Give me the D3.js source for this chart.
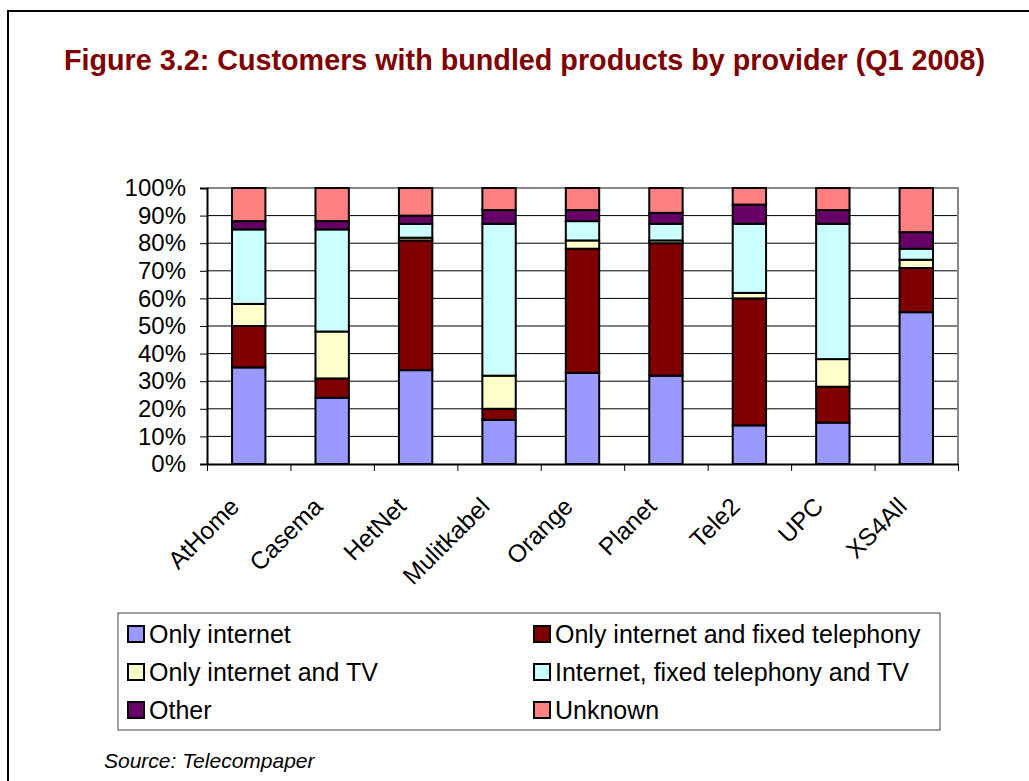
<!DOCTYPE html>
<html>
<head>
<meta charset="utf-8">
<script src="https://cdn.jsdelivr.net/npm/d3@7"></script>
<style>
  body { margin: 0; background: #fff; }
  svg { display: block; font-family: "Liberation Sans", Arial, sans-serif; }
</style>
</head>
<body>
<svg class="chart"></svg>
<script>
var providers = ["AtHome", "Casema", "HetNet", "Mulitkabel", "Orange", "Planet", "Tele2", "UPC", "XS4All"];
var seriesNames = ["Only internet", "Only internet and fixed telephony", "Only internet and TV",
                   "Internet, fixed telephony and TV", "Other", "Unknown"];
var colors = ["#9999FF", "#800000", "#FFFFCC", "#CCFFFF", "#660066", "#FF8080"];

// shares in % per provider
var onlyInternet   = [35, 24, 34, 16, 33, 32, 14, 15, 55];
var internetPhone  = [15,  7, 47,  4, 45, 48, 46, 13, 16];
var internetTV     = [ 8, 17,  1, 12,  3,  1,  2, 10,  3];
var internetPhoneTV= [27, 37,  5, 55,  7,  6, 25, 49,  4];
var other          = [ 3,  3,  3,  5,  4,  4,  7,  5,  6];
var unknown        = [12, 12, 10,  8,  8,  9,  6,  8, 16];
var yTicks = [0, 10, 20, 30, 40, 50, 60, 70, 80, 90, 100];

var W = 1029, H = 781;
var pLeft = 207, pRight = 958, pTop = 188, pBottom = 464;

var svg = d3.select(".chart").attr("width", W).attr("height", H);

// outer frame
svg.append("rect")
   .attr("x", 8).attr("y", 11)
   .attr("width", 1040).attr("height", 800)
   .attr("fill", "none").attr("stroke", "#000").attr("stroke-width", 2);

svg.append("text")
   .attr("x", 64).attr("y", 70)
   .attr("font-size", "29px")
   .attr("font-weight", "bold")
   .attr("fill", "#800000")
   .attr("textLength", 921)
   .attr("lengthAdjust", "spacingAndGlyphs")
   .text("Figure 3.2: Customers with bundled products by provider (Q1 2008)");

var table = providers.map(function(p, i) {
  return {
    provider: p,
    s0: onlyInternet[i], s1: internetPhone[i], s2: internetTV[i],
    s3: internetPhoneTV[i], s4: other[i], s5: unknown[i]
  };
});
var keys = ["s0", "s1", "s2", "s3", "s4", "s5"];
var stacked = d3.stack().keys(keys)(table);

var xS = d3.scaleBand()
           .domain(providers)
           .range([pLeft, pRight])
           .paddingInner(0.6)
           .paddingOuter(0.3);

var yS = d3.scaleLinear()
           .domain([0, 100])
           .range([pBottom, pTop]);

// gridlines
svg.append("g")
   .selectAll("line")
   .data(yTicks.slice(1, -1))
   .enter().append("line")
   .attr("x1", pLeft).attr("x2", pRight)
   .attr("y1", d => yS(d)).attr("y2", d => yS(d))
   .attr("stroke", "#000").attr("stroke-width", 1);

// plot border top/right (grey)
svg.append("path")
   .attr("d", "M" + pLeft + "," + pTop + "H" + pRight + "V" + pBottom)
   .attr("fill", "none").attr("stroke", "#888").attr("stroke-width", 2);

// bars
svg.append("g")
   .selectAll("g")
   .data(stacked)
   .enter().append("g")
   .attr("fill", (d, i) => colors[i])
   .selectAll("rect")
   .data(d => d)
   .enter().append("rect")
   .attr("x", d => xS(d.data.provider))
   .attr("y", d => yS(d[1]))
   .attr("width", xS.bandwidth())
   .attr("height", d => yS(d[0]) - yS(d[1]))
   .attr("stroke", "#000")
   .attr("stroke-width", 2);

// y axis
var yAxis = svg.append("g")
   .attr("transform", "translate(" + pLeft + ",0)")
   .call(d3.axisLeft(yS).tickValues(yTicks).tickFormat(d => d + "%").tickSize(7).tickPadding(14));
yAxis.selectAll("text").attr("font-size", "24px").attr("fill", "#000")
   .attr("font-family", "Liberation Sans, Arial, sans-serif");
yAxis.select(".domain").attr("stroke", "#000").attr("stroke-width", 2);

// x axis with ticks at category boundaries
var xB = d3.scaleLinear().domain([0, providers.length]).range([pLeft, pRight]);
var xAxis = svg.append("g")
   .attr("transform", "translate(0," + pBottom + ")")
   .call(d3.axisBottom(xB).tickValues(d3.range(providers.length + 1)).tickFormat("").tickSize(7).tickSizeOuter(0));
xAxis.select(".domain").attr("stroke", "#000").attr("stroke-width", 2);

svg.append("g")
   .selectAll("text")
   .data(providers)
   .enter().append("text")
   .attr("transform", d => "translate(" + (xS(d) + xS.bandwidth() / 2 - 8) + "," + 508 + ") rotate(-45)")
   .attr("text-anchor", "end")
   .attr("font-size", "24.5px")
   .attr("fill", "#000")
   .text(d => d);

// legend
var lg = svg.append("g");
lg.append("rect")
  .attr("x", 118).attr("y", 613)
  .attr("width", 822).attr("height", 117)
  .attr("fill", "#fff").attr("stroke", "#444").attr("stroke-width", 1);

var item = lg.selectAll("g.item")
  .data(seriesNames)
  .enter().append("g")
  .attr("class", "item")
  .attr("transform", (d, i) => "translate(" + (i % 2 === 0 ? 128 : 534) + "," + (634 + Math.floor(i / 2) * 38) + ")");

item.append("rect")
  .attr("x", 0).attr("y", -8)
  .attr("width", 16).attr("height", 16)
  .attr("fill", (d, i) => colors[i])
  .attr("stroke", "#000").attr("stroke-width", 2);

item.append("text")
  .attr("x", 21).attr("y", 9)
  .attr("font-size", "25px")
  .attr("fill", "#000")
  .text(d => d);

svg.append("text")
   .attr("x", 104).attr("y", 768)
   .attr("font-size", "21px")
   .attr("font-style", "italic")
   .attr("fill", "#000")
   .text("Source: Telecompaper");
</script>
</body>
</html>
